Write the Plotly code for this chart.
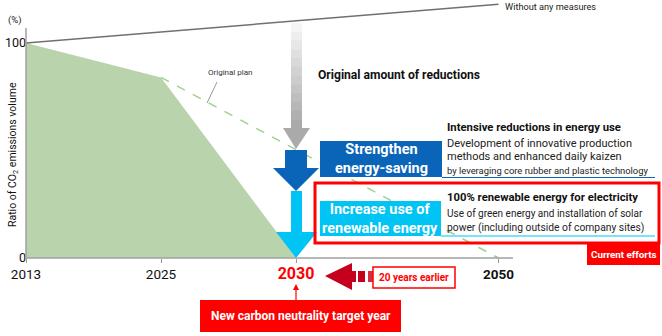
import plotly.graph_objects as go

# ---- data ----
years = ["2013", "2025", "2030", "2050"]
year_pos = [0, 1, 2, 3.5]
new_plan_years = ["2013", "2025", "2030"]
new_plan_values = [100, 84, 0]
original_plan_years = ["2025", "2050"]
original_plan_values = [84, 0]
no_measures_years = ["2013", "2050"]
no_measures_values = [100, 118]
y_ticks = [0, 100]

W, H = 662, 336
FONT = "Roboto, sans-serif"
RED = "#ff0000"
DBLUE = "#0a64b8"
LBLUE = "#00c4f4"

pos = dict(zip(years, year_pos))

# pixel -> paper helpers
def px(x):
    return x / W

def py(y):
    return 1 - y / H

def path(pts):
    return "M " + " L ".join(f"{px(a):.5f},{py(b):.5f}" for a, b in pts) + " Z"

fig = go.Figure()
fig.add_trace(go.Scatter(x=[pos[y] for y in new_plan_years], y=new_plan_values,
                         mode="lines", fill="tozeroy", fillcolor="#b9d3ad",
                         line=dict(width=0, color="#b9d3ad"), hoverinfo="skip"))
fig.add_trace(go.Scatter(x=[pos[y] for y in original_plan_years], y=original_plan_values,
                         mode="lines", line=dict(color="#a3cf8c", width=1.5, dash="dash")))
fig.add_trace(go.Scatter(x=[pos[y] for y in no_measures_years], y=no_measures_values,
                         mode="lines", line=dict(color="#707070", width=1.5)))

shapes = []
ann = []

def rect(x0, y0, x1, y1, fill, line_color=None, lw=0):
    shapes.append(dict(type="rect", xref="paper", yref="paper",
                       x0=px(x0), x1=px(x1), y0=py(y1), y1=py(y0),
                       fillcolor=fill, line=dict(color=line_color or fill, width=lw)))

def poly(pts, fill):
    shapes.append(dict(type="path", xref="paper", yref="paper", path=path(pts),
                       fillcolor=fill, line=dict(width=0)))

def line(x0, y0, x1, y1, color, w=1):
    shapes.append(dict(type="line", xref="paper", yref="paper",
                       x0=px(x0), y0=py(y0), x1=px(x1), y1=py(y1),
                       line=dict(color=color, width=w)))

def text(x, y, t, size, color="#111", bold=False, anchor="center", **kw):
    if bold:
        t = "<b>" + t.replace("<br>", "</b><br><b>") + "</b>"
    ann.append(dict(xref="paper", yref="paper", x=px(x), y=py(y), text=t,
                    showarrow=False, xanchor=anchor, yanchor="middle",
                    font=dict(size=size, color=color, family=FONT), **kw))

# axis lines
line(26, 258, 513, 258, "#a0a0a0", 1.5)
line(26, 28, 26, 258, "#a0a0a0", 1.5)

# gray gradient arrow
n = 12
for i in range(n):
    g = int(245 - (245 - 170) * i / (n - 1))
    rect(291, 23 + i * (105 / n), 302, 23 + (i + 1) * (105 / n) + 0.5, f"rgb({g},{g},{g})")
poly([(283, 128), (310, 128), (296, 149)], "#aaaaaa")

# dark blue arrow
rect(285, 150, 307, 168.5, DBLUE)
poly([(273, 168), (319, 168), (296, 191)], DBLUE)
# light blue arrow
rect(291, 191, 302, 233, LBLUE)
poly([(276, 232), (317, 232), (296, 258)], LBLUE)

# strengthen box
rect(320, 141, 442, 177, DBLUE)
line(442, 177.5, 655, 177.5, DBLUE, 1)
text(381, 159, "Strengthen<br>energy-saving", 14.5, "white", True)
text(445, 127, "Intensive reductions in energy use", 11.3, "#111", True, "left")
text(445, 143, "Development of innovative production", 11, "#222", False, "left")
text(445, 156, "methods and enhanced daily kaizen", 11, "#222", False, "left")
text(445, 170, "by leveraging core rubber and plastic technology", 9.4, "#222", False, "left")

# current efforts frame
shapes.append(dict(type="rect", xref="paper", yref="paper", x0=px(315), x1=px(659),
                   y0=py(243), y1=py(183), line=dict(color=RED, width=3)))
rect(587, 243, 660, 265, RED)
text(623.5, 254, "Current efforts", 9.8, "white", True)

rect(320, 201, 441, 236, LBLUE)
line(441, 236, 655, 236, LBLUE, 1)
text(380, 218.5, "Increase use of<br>renewable energy", 14.5, "white", True)
text(445, 197, "100% renewable energy for electricity", 11.3, "#111", True, "left")
text(445, 213, "Use of green energy and installation of solar", 10, "#222", False, "left")
text(445, 227, "power (including outside of company sites)", 10.3, "#222", False, "left")

# red "20 years earlier" arrow
DRED = "#c4001e"
poly([(325, 276), (352, 263), (352, 290)], DRED)
rect(351, 271, 356, 282, DRED)
rect(358, 271, 365, 282, DRED)
rect(368, 271, 373, 282, "#d23040")
rect(373, 267, 455, 288, "white", RED, 1.5)
text(414, 277.5, "20 years earlier", 10, RED, True)

# 2030 pointer + target box
line(296, 286, 296, 300, RED, 1.2)
poly([(293, 290), (299, 290), (296, 284)], RED)
rect(200, 300, 401, 332, RED)
text(301, 316, "New carbon neutrality target year", 12, "white", True)

# other labels
text(15, 20, "(%)", 9.5, "#222")
text(230, 72, "Original plan", 8, "#333")
line(217, 82, 207, 103, "#999", 1)
text(503, 6, "Without any measures", 9.2, "#222", False, "left")
text(316, 75, "Original amount of reductions", 12.1, "#111", True, "left")
text(13, 155, "Ratio of CO<sub>2</sub> emissions volume", 10.5, "#111", textangle=-90)

ticktext = [
    "2013", "2025",
    "<span style='color:#ff0000;font-size:16px'><b>2030</b></span>",
    "<b>2050</b>",
]

fig.update_layout(
    width=W, height=H, margin=dict(l=0, r=0, t=0, b=0),
    paper_bgcolor="white", plot_bgcolor="white", showlegend=False,
    font=dict(family=FONT, color="#111"),
    shapes=shapes, annotations=ann,
    xaxis=dict(range=[-26 / 135, (W - 26) / 135], anchor="free", position=1 - 258 / H,
               showgrid=False, zeroline=False, showline=False,
               tickvals=year_pos, ticktext=ticktext, ticks="outside", ticklen=4,
               tickcolor="#999", tickfont=dict(size=13.5, color="#111", family=FONT)),
    yaxis=dict(range=[(258 - H) / 2.15, 258 / 2.15], anchor="free", position=26 / W,
               showgrid=False, zeroline=False, showline=False,
               tickvals=y_ticks, ticktext=[str(v) for v in y_ticks], ticks="",
               tickfont=dict(size=12.5, color="#111", family=FONT)),
)

fig.write_html("out.html")
